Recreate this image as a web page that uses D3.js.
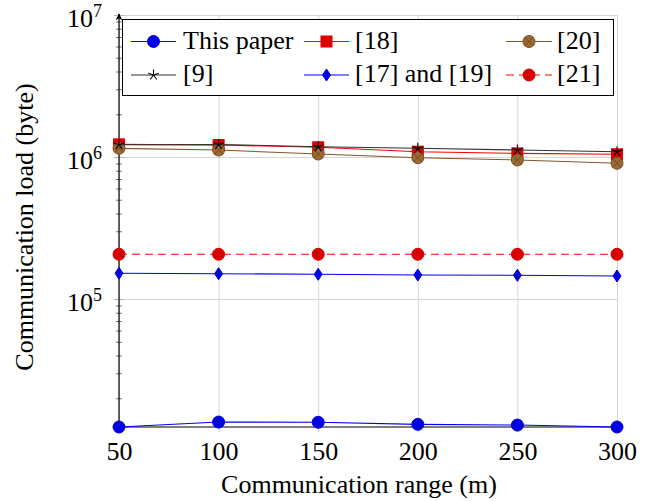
<!DOCTYPE html>
<html>
<head>
<meta charset="utf-8">
<script src="https://cdn.jsdelivr.net/npm/d3@7"></script>
<style>
  html, body { margin: 0; padding: 0; background: #fff; }
  svg { display: block; }
  svg text { font-family: "Liberation Serif", "Times New Roman", serif !important; }
</style>
</head>
<body>
<svg id="chart" width="649" height="501"></svg>
<script>
// Communication range (m) on the x axis
const ranges = [50, 100, 150, 200, 250, 300];

// Communication load (byte) for each scheme
const thisPaper = [12550, 13600, 13550, 13100, 12950, 12550];
const ref18     = [1228000, 1215000, 1170000, 1090000, 1060000, 1045000];
const ref20     = [1151000, 1120000, 1050000, 989000, 953000, 903000];
const ref9      = [1220000, 1225000, 1182000, 1152000, 1120000, 1090000];
const ref17_19  = [151700, 150700, 149300, 147600, 146900, 145300];
const ref21     = [206600, 206600, 206600, 206600, 206600, 206600];

const xTicks = [50, 100, 150, 200, 250, 300];
const yMajor = [1e5, 1e6, 1e7];
const yMajorExp = ["5", "6", "7"];
const yMax = 1e7;

const seriesNames = ["This paper", "[18]", "[20]", "[9]", "[17] and [19]", "[21]"];

const FONT = '"Liberation Serif", "Times New Roman", serif';

const svg = d3.select("#chart");
const margin = { left: 119, right: 32, top: 15, bottom: 74 };
const W = 649, H = 501;
const plotW = W - margin.left - margin.right;
const plotH = H - margin.top - margin.bottom;

const allValues = [].concat(thisPaper, ref18, ref20, ref9, ref17_19, ref21);
const x = d3.scaleLinear().domain([d3.min(ranges), d3.max(ranges)]).range([0, plotW]);
const y = d3.scaleLog().domain([d3.min(allValues), yMax]).range([plotH, 0]);

const g = svg.append("g").attr("transform", `translate(${margin.left},${margin.top})`);

// grid: vertical lines at x ticks
const xGrid = g.append("g")
  .attr("transform", `translate(0,${plotH})`)
  .call(d3.axisBottom(x).tickValues(xTicks).tickSize(-plotH).tickFormat(""));
xGrid.select(".domain").remove();
xGrid.selectAll("line").attr("stroke", "#d6d6d6").attr("stroke-width", 1);

// grid: horizontal lines at decades
const yGrid = g.append("g")
  .call(d3.axisLeft(y).tickValues(yMajor).tickSize(-plotW).tickFormat(""));
yGrid.select(".domain").remove();
yGrid.selectAll("line").attr("stroke", "#d6d6d6").attr("stroke-width", 1);

// x tick marks below the axis line
const xTickMarks = g.append("g")
  .attr("transform", `translate(0,${plotH - 5})`)
  .call(d3.axisBottom(x).tickValues(xTicks).tickSize(10).tickFormat(""));
xTickMarks.select(".domain").remove();
xTickMarks.selectAll("line").attr("stroke", "#bdbdbd");

// y minor ticks across the axis line
const minorVals = [];
[1e4, 1e5, 1e6].forEach(d => { for (let k = 2; k <= 9; k++) minorVals.push(d * k); });
const yDom = y.domain();
const yMinor = minorVals.filter(v => v >= yDom[0] && v <= yDom[1]);
const yMinorAxis = g.append("g")
  .attr("transform", "translate(3,0)")
  .call(d3.axisLeft(y).tickValues(yMinor).tickSize(6).tickFormat(""));
yMinorAxis.select(".domain").remove();
yMinorAxis.selectAll("line").attr("stroke", "#777");

// y major ticks across the axis line
const yMajorAxis = g.append("g")
  .attr("transform", "translate(5,0)")
  .call(d3.axisLeft(y).tickValues(yMajor).tickSize(10).tickFormat(""));
yMajorAxis.select(".domain").remove();
yMajorAxis.selectAll("line").attr("stroke", "#b5b5b5");

// y tick labels as powers of ten
const yLabels = g.append("g")
  .call(d3.axisLeft(y).tickValues(yMajor).tickSize(0).tickFormat(""));
yLabels.select(".domain").remove();
yLabels.attr("font-family", FONT);
yLabels.selectAll(".tick").each(function (d, i) {
  const t = d3.select(this).append("text")
    .attr("x", -17).attr("y", 11)
    .attr("text-anchor", "end")
    .attr("fill", "#000")
    .style("font-family", FONT)
    .style("font-size", "26px");
  t.append("tspan").text("10");
  t.append("tspan").attr("dy", -10).style("font-size", "18px").text(yMajorExp[i]);
});

// x tick labels
const xLabels = g.append("g")
  .attr("transform", `translate(0,${plotH})`)
  .call(d3.axisBottom(x).tickValues(xTicks).tickSize(0).tickPadding(0).tickFormat(d3.format("d")));
xLabels.select(".domain").remove();
xLabels.attr("font-family", FONT);
xLabels.selectAll("text")
  .attr("y", 33).attr("dy", null)
  .attr("fill", "#000")
  .style("font-family", FONT)
  .style("font-size", "26px");

// axis lines with arrow heads
const defs = svg.append("defs");
defs.append("marker")
  .attr("id", "arrow")
  .attr("viewBox", "0 0 10 10")
  .attr("refX", 9).attr("refY", 5)
  .attr("markerWidth", 7).attr("markerHeight", 7)
  .attr("markerUnits", "userSpaceOnUse")
  .attr("orient", "auto")
  .append("path")
  .attr("d", "M0,0 L10,5 L0,10 L3,5 Z")
  .attr("fill", "#000");

g.append("line")
  .attr("x1", 0).attr("y1", plotH).attr("x2", 0).attr("y2", -1)
  .attr("stroke", "#000").attr("stroke-width", 1.2)
  .attr("marker-end", "url(#arrow)");
g.append("line")
  .attr("x1", 0).attr("y1", plotH).attr("x2", plotW + 1).attr("y2", plotH)
  .attr("stroke", "#000").attr("stroke-width", 1.2)
  .attr("marker-end", "url(#arrow)");

// marker shapes
function drawMarker(sel, type, cx, cy) {
  const m = sel.append("g").attr("transform", `translate(${cx},${cy})`);
  if (type === "circleBlue") {
    m.append("circle").attr("r", 6).attr("fill", "#0000e0").attr("stroke", "#0000e0");
  } else if (type === "square") {
    m.append("rect").attr("x", -5.5).attr("y", -5.5).attr("width", 11).attr("height", 11)
      .attr("fill", "#e00000").attr("stroke", "#e00000");
  } else if (type === "otimes") {
    m.append("circle").attr("r", 6).attr("fill", "#9c6833").attr("stroke", "#7a4f25");
    m.append("path").attr("d", "M-4.2,-4.2L4.2,4.2M-4.2,4.2L4.2,-4.2")
      .attr("stroke", "#6a4420").attr("stroke-width", 0.8);
  } else if (type === "star") {
    let d = "";
    for (let k = 0; k < 5; k++) {
      const a = -Math.PI / 2 + k * 2 * Math.PI / 5;
      d += `M0,0L${(5.5 * Math.cos(a)).toFixed(2)},${(5.5 * Math.sin(a)).toFixed(2)}`;
    }
    m.append("path").attr("d", d).attr("stroke", "#000").attr("stroke-width", 1.1).attr("fill", "none");
  } else if (type === "diamond") {
    m.append("path").attr("d", "M0,-6L4,0L0,6L-4,0Z").attr("fill", "#0000e0").attr("stroke", "#0000e0");
  } else if (type === "circleRed") {
    m.append("circle").attr("r", 6).attr("fill", "#d80000").attr("stroke", "#d80000");
  }
}

const series = [
  { name: seriesNames[0], values: thisPaper, color: "#0000ff", marker: "circleBlue", dash: null },
  { name: seriesNames[1], values: ref18, color: "#ff0000", marker: "square", dash: null },
  { name: seriesNames[2], values: ref20, color: "#7d5530", marker: "otimes", dash: null },
  { name: seriesNames[3], values: ref9, color: "#333333", marker: "star", dash: null },
  { name: seriesNames[4], values: ref17_19, color: "#0000ff", marker: "diamond", dash: null },
  { name: seriesNames[5], values: ref21, color: "#ff0000", marker: "circleRed", dash: "8,5" }
];

const line = d3.line().x((d, i) => x(ranges[i])).y(d => y(d));

series.forEach(s => {
  const sg = g.append("g");
  sg.append("path")
    .datum(s.values)
    .attr("d", line)
    .attr("fill", "none")
    .attr("stroke", s.color)
    .attr("stroke-width", 1.1)
    .attr("stroke-dasharray", s.dash);
  s.values.forEach((v, i) => drawMarker(sg, s.marker, x(ranges[i]), y(v)));
});

// legend
const legend = svg.append("g");
legend.append("rect")
  .attr("x", 122.5).attr("y", 19.5).attr("width", 491).attr("height", 76)
  .attr("fill", "#fff").attr("stroke", "#000").attr("stroke-width", 1);

const colLine = [[131, 176], [304, 349], [506, 552]];
const colText = [183, 355, 557];
const rowY = [41.5, 75];
series.forEach((s, i) => {
  const row = Math.floor(i / 3), col = i % 3;
  const ly = rowY[row];
  legend.append("line")
    .attr("x1", colLine[col][0]).attr("x2", colLine[col][1])
    .attr("y1", ly).attr("y2", ly)
    .attr("stroke", s.color).attr("stroke-width", 1.1)
    .attr("stroke-dasharray", s.dash);
  drawMarker(legend, s.marker, (colLine[col][0] + colLine[col][1]) / 2, ly);
  legend.append("text")
    .attr("x", colText[col]).attr("y", ly + 7)
    .attr("fill", "#000")
    .style("font-family", FONT)
    .style("font-size", "26px")
    .text(s.name);
});

// axis titles
svg.append("text")
  .attr("x", margin.left + plotW / 2 - 9).attr("y", 493)
  .attr("text-anchor", "middle")
  .style("font-family", FONT)
  .style("font-size", "26px")
  .text("Communication range (m)");

svg.append("text")
  .attr("transform", "translate(33,227) rotate(-90)")
  .attr("text-anchor", "middle")
  .style("font-family", FONT)
  .style("font-size", "26px")
  .text("Communication load (byte)");
</script>
</body>
</html>
